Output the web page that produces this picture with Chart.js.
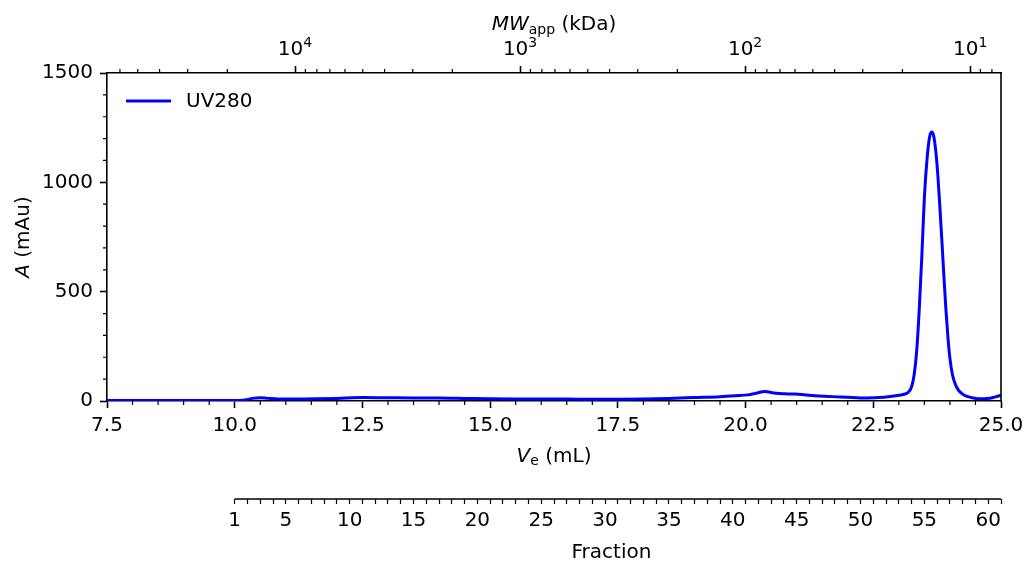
<!DOCTYPE html>
<html>
<head>
<meta charset="utf-8">
<script src="https://cdn.jsdelivr.net/npm/chart.js@4.4.0/dist/chart.umd.min.js"></script>
<style>
  body { margin: 0; background: #fff; }
  canvas { display: block; }
</style>
</head>
<body>
<canvas id="secChart" width="1027" height="561"></canvas>
<script>
// SEC run: elution volume (mL) vs UV absorbance at 280 nm (mAu)
const elutionVolume = [
    7.5, 8.5, 9.5, 10.0, 10.2, 10.35, 10.5, 10.65, 10.85, 11.2,
    11.6, 12.0, 12.5, 13.0, 13.5, 14.0, 14.5, 15.0, 15.5, 16.0,
    16.5, 17.0, 17.5, 18.0, 18.5, 19.0, 19.5, 19.8, 20.05, 20.2,
    20.38, 20.55, 20.75, 20.95, 21.3, 21.7, 22.0, 22.25, 22.5, 22.75,
    23.0, 23.1, 23.18, 23.25, 23.3, 23.35, 23.4, 23.45, 23.5, 23.55,
    23.6, 23.64, 23.68, 23.72, 23.76, 23.8, 23.84, 23.88, 23.92, 23.96,
    24.0, 24.05, 24.1, 24.16, 24.23, 24.32, 24.46, 24.6, 24.72, 24.85,
    24.95, 25.0
];
const uv280 = [
    2, 2, 2, 2, 5, 12, 15, 12, 9, 9,
    10, 12, 16, 15, 14, 14, 12, 10, 9, 9,
    9, 8, 8, 9, 12, 16, 20, 24, 28, 35,
    44, 37, 33, 32, 25, 20, 17, 14, 15, 18,
    26, 31, 39, 65, 120, 230, 420, 660, 930, 1100,
    1205, 1230, 1215, 1150, 1045, 900, 745, 580, 425, 295,
    195, 120, 80, 52, 35, 22, 14, 10, 11, 16,
    23, 26
];

const volumeTicks = [7.5, 10, 12.5, 15, 17.5, 20, 22.5, 25];
const absorbanceTicks = [0, 500, 1000, 1500];
const mwTicks = [10000, 1000, 100, 10]; // kDa
const fractionLabels = [1, 5, 10, 15, 20, 25, 30, 35, 40, 45, 50, 55, 60];

// column calibration: apparent MW (kDa) at both ends of the volume axis
const mwAtStart = 68500;
const mwAtEnd = 7.29;
// fraction collector: fraction 1 starts at 10 mL, 0.25 mL per tube
const firstFractionVolume = 10.0;
const fractionVolume = 0.25;

const V_MIN = 7.5, V_MAX = 25;
const toFraction = v => 1 + (v - firstFractionVolume) / fractionVolume;

const FONT = '"DejaVu Sans", sans-serif';
const tickFont = { family: FONT, size: 20, lineHeight: 1 };

// minor tick positions per scale
const minorTicks = {
    x: [],
    y: [],
    x2: []
};
for (let v = 8; v < V_MAX; v += 0.5) {
    if (Math.abs(v / 2.5 - Math.round(v / 2.5)) > 1e-6) minorTicks.x.push(v);
}
for (let a = 100; a < 1500; a += 100) {
    if (a % 500) minorTicks.y.push(a);
}
for (let d = 1; d <= 10000; d *= 10) {
    for (let k = 2; k <= 9; k++) {
        const m = k * d;
        if (m > mwAtEnd && m < mwAtStart) minorTicks.x2.push(m);
    }
}

function fixSize(size) {
    return scale => {
        if (scale.isHorizontal()) scale.height = size;
        else scale.width = size;
        scale.paddingLeft = scale.paddingRight = 0;
        scale.paddingTop = scale.paddingBottom = 0;
    };
}

// text runs: 'i' italic, 's' subscript, 'e' superscript, '' regular
function drawRich(ctx, parts, x, y, rotate) {
    const fontFor = s => s === 'i' ? 'italic 20px ' + FONT : (s === 's' || s === 'e') ? '14px ' + FONT : '20px ' + FONT;
    const shift = s => s === 's' ? 3.5 : s === 'e' ? -8.3 : 0;
    ctx.save();
    ctx.translate(x, y);
    if (rotate) ctx.rotate(-Math.PI / 2);
    ctx.textAlign = 'left';
    ctx.textBaseline = 'alphabetic';
    ctx.fillStyle = '#000';
    let total = 0;
    parts.forEach(([t, s]) => { ctx.font = fontFor(s); total += ctx.measureText(t).width; });
    let cx = -total / 2;
    parts.forEach(([t, s]) => {
        ctx.font = fontFor(s);
        ctx.fillText(t, cx, shift(s));
        cx += ctx.measureText(t).width;
    });
    ctx.restore();
}

const decorations = {
    id: 'decorations',
    afterDraw(chart) {
        const ctx = chart.ctx;
        const area = chart.chartArea;
        const s = chart.scales;

        ctx.save();
        ctx.strokeStyle = '#000';

        // minor ticks
        ctx.lineWidth = 1.2;
        ctx.beginPath();
        minorTicks.x.forEach(v => {
            const p = s.x.getPixelForValue(v);
            ctx.moveTo(p, area.bottom); ctx.lineTo(p, area.bottom + 4);
        });
        minorTicks.x2.forEach(v => {
            const p = s.x2.getPixelForValue(v);
            ctx.moveTo(p, area.top); ctx.lineTo(p, area.top - 4);
        });
        minorTicks.y.forEach(v => {
            const p = s.y.getPixelForValue(v);
            ctx.moveTo(area.left, p); ctx.lineTo(area.left - 4, p);
        });
        ctx.stroke();

        // right spine
        ctx.lineWidth = 1.6;
        ctx.beginPath();
        ctx.moveTo(area.right, area.top - 0.8);
        ctx.lineTo(area.right, area.bottom + 0.8);
        ctx.stroke();

        // fraction axis line, only over the collected range
        const f = s.fraction;
        ctx.beginPath();
        ctx.moveTo(f.getPixelForValue(1), f.top);
        ctx.lineTo(f.getPixelForValue(toFraction(V_MAX)), f.top);
        ctx.stroke();

        // legend
        const ds = chart.data.datasets[0];
        ctx.strokeStyle = ds.borderColor;
        ctx.lineWidth = ds.borderWidth;
        ctx.beginPath();
        ctx.moveTo(area.left + 19, area.top + 28);
        ctx.lineTo(area.left + 64, area.top + 28);
        ctx.stroke();
        ctx.fillStyle = '#000';
        ctx.font = '20px ' + FONT;
        ctx.textBaseline = 'middle';
        ctx.fillText(ds.label, area.left + 79, area.top + 28.5);
        ctx.restore();

        // MW tick labels as powers of ten
        mwTicks.forEach(v => {
            drawRich(ctx, [['10', ''], [String(Math.round(Math.log10(v))), 'e']],
                s.x2.getPixelForValue(v), area.top - 18);
        });

        // axis titles
        const midX = (area.left + area.right) / 2;
        drawRich(ctx, [['MW', 'i'], ['app', 's'], [' (kDa)', '']], midX, 30);
        drawRich(ctx, [['V', 'i'], ['e', 's'], [' (mL)', '']], midX, 461.5);
        drawRich(ctx, [['A', 'i'], [' (mAu)', '']], 29.3, (area.top + area.bottom) / 2, true);
        const fMid = (f.getPixelForValue(0) + f.getPixelForValue(toFraction(V_MAX))) / 2;
        drawRich(ctx, [['Fraction', '']], fMid, 558.3);
    }
};

const axisGrid = { drawOnChartArea: false, drawTicks: true, tickLength: 7, tickWidth: 1.6, tickColor: '#000' };
const axisBorder = { display: true, color: '#000', width: 1.6 };

new Chart(document.getElementById('secChart'), {
    type: 'line',
    data: {
        datasets: [{
            label: 'UV280',
            data: elutionVolume.map((v, i) => ({ x: v, y: uv280[i] })),
            borderColor: '#0000ff',
            borderWidth: 3,
            pointRadius: 0,
            fill: false,
            cubicInterpolationMode: 'monotone'
        }]
    },
    options: {
        responsive: false,
        animation: false,
        devicePixelRatio: 1,
        layout: { padding: { left: 0, right: 26, top: 0, bottom: 0 } },
        plugins: {
            legend: { display: false },
            tooltip: { enabled: false }
        },
        scales: {
            x: {
                type: 'linear',
                position: 'bottom',
                min: V_MIN,
                max: V_MAX,
                bounds: 'data',
                weight: 0,
                afterBuildTicks: scale => { scale.ticks = volumeTicks.map(v => ({ value: v })); },
                afterFit: fixSize(98),
                ticks: {
                    autoSkip: false, maxRotation: 0, minRotation: 0,
                    padding: 8, color: '#000', font: tickFont,
                    callback: v => v.toFixed(1)
                },
                grid: axisGrid,
                border: axisBorder
            },
            fraction: {
                type: 'linear',
                position: 'bottom',
                min: toFraction(V_MIN),
                max: toFraction(V_MAX),
                bounds: 'data',
                weight: 1,
                afterBuildTicks: scale => {
                    const t = [];
                    for (let n = 1; n <= toFraction(V_MAX); n++) t.push({ value: n });
                    scale.ticks = t;
                },
                afterFit: fixSize(62),
                ticks: {
                    autoSkip: false, maxRotation: 0, minRotation: 0,
                    padding: 7, color: '#000', font: tickFont,
                    callback: v => fractionLabels.includes(v) ? String(v) : ''
                },
                grid: { drawOnChartArea: false, drawTicks: true, tickLength: 5, tickWidth: 1.2, tickColor: '#000' },
                border: { display: false }
            },
            x2: {
                type: 'logarithmic',
                position: 'top',
                reverse: true,
                min: mwAtEnd,
                max: mwAtStart,
                bounds: 'data',
                afterBuildTicks: scale => { scale.ticks = mwTicks.map(v => ({ value: v })); },
                afterFit: fixSize(73),
                ticks: {
                    autoSkip: false, maxRotation: 0, minRotation: 0,
                    padding: 9, color: '#000', font: tickFont,
                    callback: () => ''
                },
                grid: axisGrid,
                border: axisBorder
            },
            y: {
                type: 'linear',
                position: 'left',
                min: 0,
                max: 1500,
                bounds: 'data',
                afterBuildTicks: scale => { scale.ticks = absorbanceTicks.map(v => ({ value: v })); },
                afterFit: fixSize(107),
                ticks: {
                    padding: 7, color: '#000', font: tickFont,
                    callback: v => String(v)
                },
                grid: axisGrid,
                border: axisBorder
            }
        }
    },
    plugins: [decorations]
});
</script>
</body>
</html>
